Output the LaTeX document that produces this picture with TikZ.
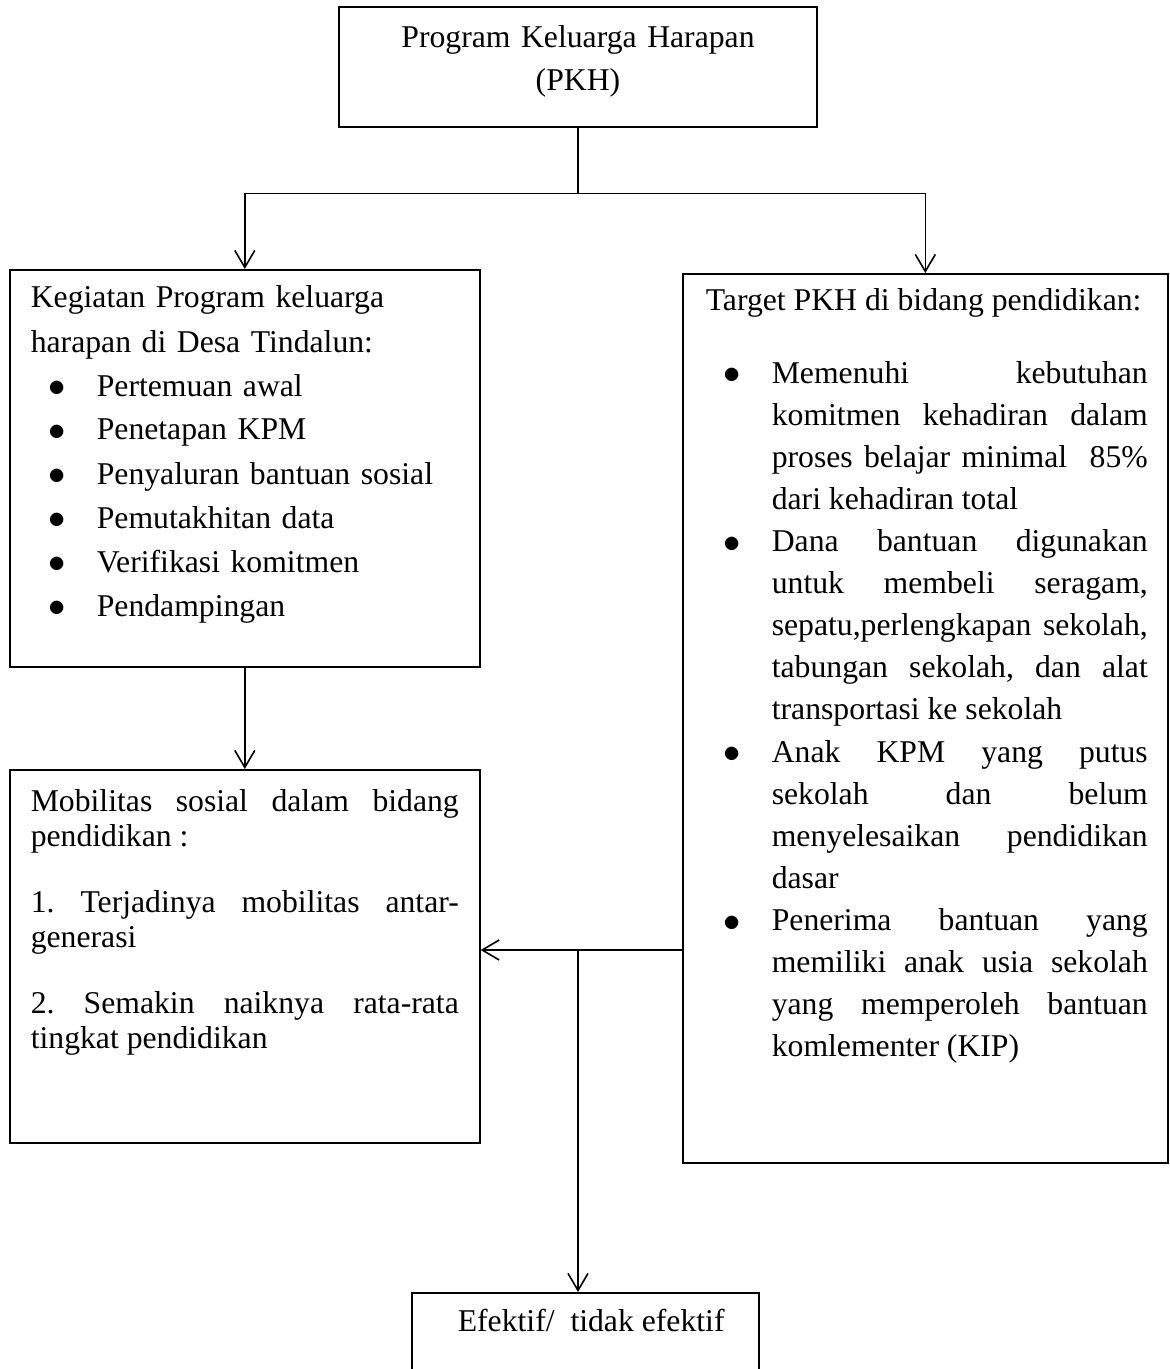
\documentclass[tikz,border=0pt]{standalone}
\usepackage{fontspec}
\setmainfont{Liberation Serif}
\usetikzlibrary{arrows.meta}

\newlength{\lekuk}
\setlength{\lekuk}{33pt}
\newcommand{\titik}{\raisebox{-0.4pt}{$\bullet$}}
\newcommand{\poin}[1]{\par\noindent\hangindent=\lekuk\hangafter=1\makebox[\lekuk][l]{\hspace{9pt}\titik}#1\par}

\begin{document}
\frenchspacing
\begin{tikzpicture}
  [x=0.5pt, y=-0.5pt, line width=0.8pt,
   >={Straight Barb[length=8.5pt,width=10pt]},
   kotak/.style={draw, inner sep=0pt, anchor=north west},
   isi/.style={inner sep=0pt, anchor=base west, font=\fontsize{15.85}{22}\selectfont}]
  \clip (0,0) rectangle (1169,1369);

  % kotak-kotak
  \node[kotak, minimum width=239pt, minimum height=60pt] (pkh) at (338,6) {};
  \node[kotak, minimum width=235pt, minimum height=198.5pt] (kegiatan) at (9,269) {};
  \node[kotak, minimum width=242.5pt, minimum height=444.5pt] (target) at (682,273) {};
  \node[kotak, minimum width=235pt, minimum height=186.5pt] (mobilitas) at (9,769) {};
  \node[kotak, minimum width=173.5pt, minimum height=55pt] (efektif) at (411,1292) {};

  % isi kotak
  \node[isi, anchor=base, text width=230pt, align=center, font=\fontsize{15.85}{21.5}\selectfont] (pkhteks) at (578,48) {Program Keluarga Harapan\\(PKH)};
  \node[isi, text width=220pt, align=left] (kegiatanteks) at (30,308)
    {Kegiatan Program keluarga\\harapan di Desa Tindalun:\poin{Pertemuan awal}\poin{Penetapan KPM}\poin{Penyaluran bantuan sosial}\poin{Pemutakhitan data}\poin{Verifikasi komitmen}\poin{Pendampingan}};
  \node[isi, text width=221pt, align=justify, font=\fontsize{15.85}{21.05}\selectfont] (targetteks) at (705,311)
    {Target PKH di bidang pendidikan:\par\vspace{15pt}%
     \poin{Memenuhi kebutuhan\linebreak komitmen kehadiran dalam\linebreak proses belajar minimal \ 85\%\linebreak dari kehadiran total}%
     \poin{Dana bantuan digunakan\linebreak untuk membeli seragam,\linebreak sepatu,perlengkapan sekolah,\linebreak tabungan sekolah, dan alat\linebreak transportasi ke sekolah}%
     \poin{Anak KPM yang putus\linebreak sekolah dan belum\linebreak menyelesaikan pendidikan\linebreak dasar}%
     \poin{Penerima bantuan yang\linebreak memiliki anak usia sekolah\linebreak yang memperoleh bantuan\linebreak komlementer (KIP)}};
  \node[isi, text width=214pt, align=justify, font=\fontsize{15.85}{17.5}\selectfont] (mobilitasteks) at (30,811)
    {Mobilitas sosial dalam bidang\linebreak pendidikan :\par\vspace{15.5pt}%
     1. Terjadinya mobilitas antar-\linebreak generasi\par\vspace{15.5pt}%
     2. Semakin naiknya rata-rata\linebreak tingkat pendidikan};
  \node[isi] (efektifteks) at (457,1331) {Efektif/ \ tidak efektif};

  % panah
  \coordinate (cabang) at ([yshift=-33pt]pkh.south);
  \coordinate (temu) at (578,950);
  \draw (pkh.south) -- (cabang);
  \draw[->] (cabang) -| (kegiatan.north);
  \draw[->] (cabang) -| (target.north);
  \draw[->] (kegiatan) -- (mobilitas);
  \draw[->] (target.west |- temu) -- (mobilitas.east |- temu);
  \draw[->] (temu) -- (temu |- efektif.north);
\end{tikzpicture}
\end{document}
